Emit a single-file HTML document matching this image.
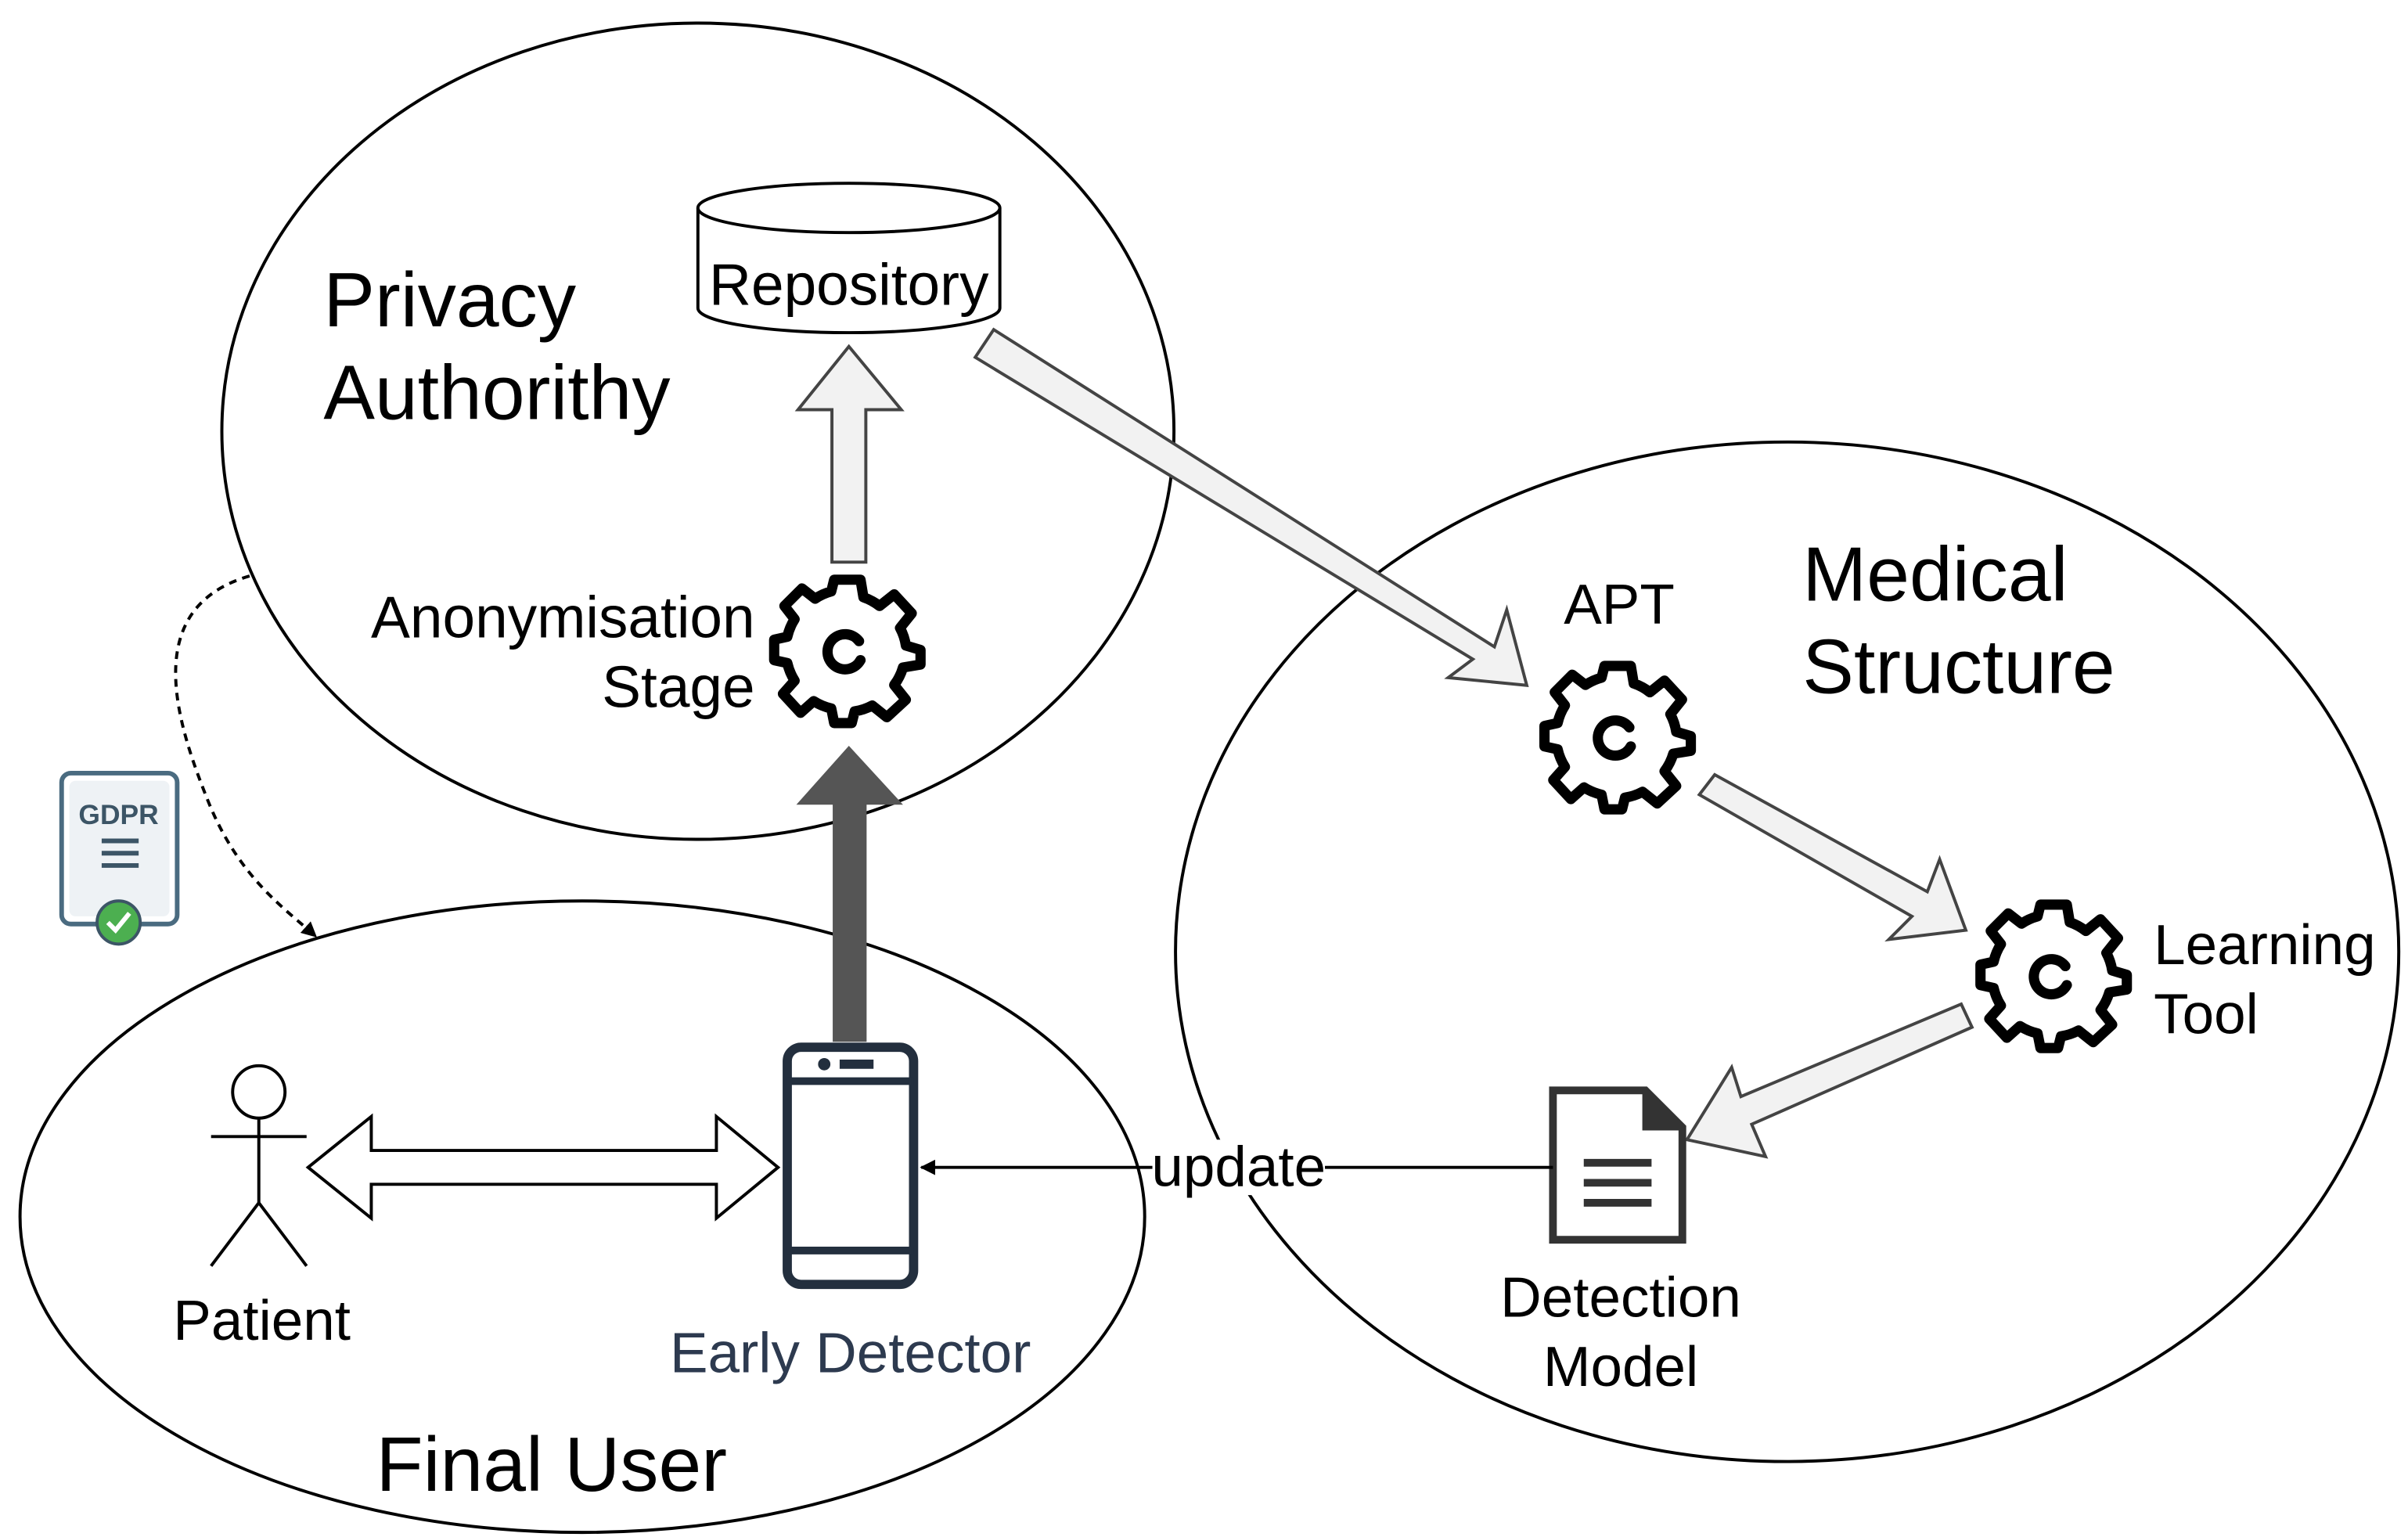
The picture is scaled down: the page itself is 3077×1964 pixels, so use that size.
<!DOCTYPE html>
<html><head><meta charset="utf-8"><style>
html,body{margin:0;padding:0;background:#fff;}
svg{display:block;}
text{font-family:"Liberation Sans",Arial,sans-serif;}
</style></head><body>
<svg width="3077" height="1964" viewBox="0 0 1563 998" preserveAspectRatio="none" xmlns="http://www.w3.org/2000/svg">
<defs>
<marker id="ah" markerWidth="10" markerHeight="10" refX="9" refY="5" orient="auto" markerUnits="userSpaceOnUse"><path d="M0,0 L10,5 L0,10 Z" fill="#000"/></marker>
<g id="gear">
<path d="M-9,-48 L9,-48 L11,-36 A37,37 0 0 1 22,-30 L32,-38 L44,-25 L36,-15 A37,37 0 0 1 40,-3 L50,0 L50,10 L38,12 A37,37 0 0 1 32,24 L40,34 L27,46 L17,38 A37,37 0 0 1 5,42 L3,50 L-9,50 L-11,40 A37,37 0 0 1 -23,35 L-32,43 L-44,30 L-36,21 A37,37 0 0 1 -41,9 L-50,7 L-50,-7 L-41,-9 A37,37 0 0 1 -36,-21 L-43,-30 L-31,-42 L-22,-35 A37,37 0 0 1 -11,-40 Z" fill="none" stroke="#000" stroke-width="7" stroke-linejoin="round"/>
<path d="M8,-6 A12,12 0 1 0 9,7" fill="none" stroke="#000" stroke-width="7" stroke-linecap="round"/>
</g>
</defs>
<ellipse cx="453" cy="280" rx="309" ry="265" fill="none" stroke="#000" stroke-width="2"/>
<ellipse cx="1160" cy="618" rx="397" ry="331" fill="none" stroke="#000" stroke-width="2"/>
<ellipse cx="378" cy="790" rx="365" ry="205" fill="none" stroke="#000" stroke-width="2"/>

<path d="M453,135 L453,200 A98,16 0 0 0 649,200 L649,135" fill="#fff" stroke="#000" stroke-width="2"/>
<ellipse cx="551" cy="135" rx="98" ry="16" fill="#fff" stroke="#000" stroke-width="2"/>
<text x="551" y="198" font-size="38" text-anchor="middle">Repository</text>

<text x="210" y="212" font-size="50">Privacy</text>
<text x="210" y="272" font-size="50">Authorithy</text>

<path d="M540,365 L540,266 L518,266 L551,225 L585,266 L562,266 L562,365 Z" fill="#f2f2f2" stroke="#444" stroke-width="2"/>
<use href="#gear" transform="translate(550,422) scale(0.95)"/>
<text x="490" y="414" font-size="38" text-anchor="end">Anonymisation</text>
<text x="490" y="459" font-size="38" text-anchor="end">Stage</text>

<path d="M541,676 L541,522 L518,522 L551,485 L585,522 L562,522 L562,676 Z" fill="#555" stroke="#555" stroke-width="1"/>

<path d="M633,232 L645,214 L970,420 L978,396 L991,445 L940,440 L956,428 Z" fill="#f2f2f2" stroke="#444" stroke-width="2"/>

<text x="1051" y="405" font-size="37" text-anchor="middle">APT</text>
<use href="#gear" transform="translate(1050,478) scale(0.95)"/>
<text x="1170" y="390" font-size="50">Medical</text>
<text x="1170" y="450" font-size="50">Structure</text>

<path d="M1103,516 L1113,503 L1251,579 L1259,558 L1276,604 L1226,610 L1241,595 Z" fill="#f2f2f2" stroke="#444" stroke-width="2"/>
<use href="#gear" transform="translate(1333,633) scale(0.95)"/>
<text x="1398" y="626" font-size="37">Learning</text>
<text x="1398" y="671" font-size="37">Tool</text>

<path d="M1280,667 L1273,652 L1130,712 L1124,693 L1095,740 L1146,751 L1137,730 Z" fill="#f2f2f2" stroke="#444" stroke-width="2"/>

<path d="M1008,708 L1068,708 L1092,732 L1092,805 L1008,805 Z" fill="#fff" stroke="#333" stroke-width="5"/>
<path d="M1066,708 L1092,734 L1066,734 Z" fill="#333"/>
<path d="M1028,755 L1072,755 M1028,768 L1072,768 M1028,781 L1072,781" stroke="#333" stroke-width="5"/>
<text x="1052" y="855" font-size="37" text-anchor="middle">Detection</text>
<text x="1052" y="900" font-size="37" text-anchor="middle">Model</text>

<line x1="1008" y1="758" x2="598" y2="758" stroke="#000" stroke-width="2" marker-end="url(#ah)"/>
<rect x="748" y="740" width="112" height="36" fill="#fff"/>
<text x="804" y="770" font-size="37" text-anchor="middle">update</text>

<rect x="511" y="680" width="82" height="154" rx="9" fill="#fff" stroke="#232f3e" stroke-width="6"/>
<line x1="511" y1="702" x2="593" y2="702" stroke="#232f3e" stroke-width="5"/>
<line x1="511" y1="812" x2="593" y2="812" stroke="#232f3e" stroke-width="5"/>
<circle cx="535" cy="691" r="4" fill="#232f3e"/>
<rect x="545" y="688" width="22" height="6" fill="#232f3e"/>
<text x="552" y="891" font-size="37" text-anchor="middle" fill="#2d3a4f">Early Detector</text>

<path d="M200,758 L241,725 L241,747 L465,747 L465,725 L505,758 L465,791 L465,769 L241,769 L241,791 Z" fill="#fff" stroke="#000" stroke-width="2"/>

<circle cx="168" cy="709" r="17" fill="#fff" stroke="#000" stroke-width="2"/>
<path d="M168,726 L168,781 M137,738 L199,738 M168,781 L137,822 M168,781 L199,822" stroke="#000" stroke-width="2" fill="none"/>
<text x="170" y="870" font-size="37" text-anchor="middle">Patient</text>

<text x="358" y="968" font-size="50" text-anchor="middle">Final User</text>

<path d="M162,374 C90,395 115,470 135,520 C155,570 185,590 205,608" fill="none" stroke="#000" stroke-width="2" stroke-dasharray="5,4" marker-end="url(#ah)"/>

<rect x="40" y="502" width="75" height="98" rx="6" fill="#fff" stroke="#4a6b80" stroke-width="3"/>
<rect x="45" y="507" width="65" height="88" rx="4" fill="#eef2f5"/>
<text x="77" y="535" font-size="18" font-weight="bold" text-anchor="middle" fill="#3c5566">GDPR</text>
<path d="M66,546 L90,546 M66,554 L90,554 M66,562 L90,562" stroke="#3c5566" stroke-width="3"/>
<circle cx="77" cy="599" r="14" fill="#4caf50" stroke="#3c5566" stroke-width="2"/>
<path d="M70,599 L75,604 L84,593" stroke="#fff" stroke-width="3" fill="none"/>
</svg>
</body></html>
